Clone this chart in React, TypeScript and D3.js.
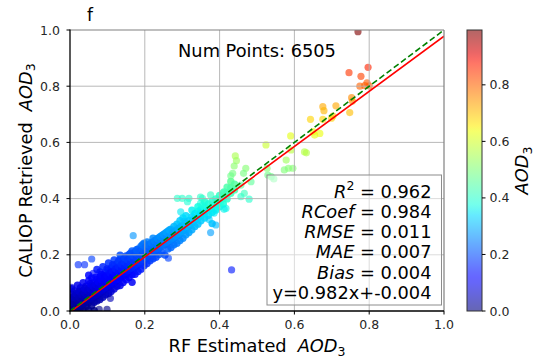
import React from "react";
import * as d3 from "d3";

// band of the dense low-AOD cloud: [estimated, retrieved values]
const bandRows: [number, number[]][] = [
  [0.004, [0.004, 0.022, 0.041, 0.06, 0.079]],
  [0.012, [0.0, 0.016, 0.031, 0.052, 0.071]],
  [0.02, [0.006, 0.021, 0.036, 0.057, 0.092]],
  [0.028, [0.011, 0.029, 0.046, 0.066, 0.083]],
  [0.035, [0.002, 0.021, 0.04, 0.056, 0.074, 0.101]],
  [0.043, [0.016, 0.034, 0.051, 0.069, 0.088]],
  [0.05, [0.004, 0.029, 0.046, 0.062, 0.081, 0.108, 0.127]],
  [0.058, [0.019, 0.041, 0.056, 0.071, 0.092, 0.118]],
  [0.065, [0.001, 0.031, 0.049, 0.066, 0.082, 0.102]],
  [0.072, [0.036, 0.054, 0.074, 0.091, 0.112, 0.148]],
  [0.08, [0.041, 0.061, 0.079, 0.096, 0.121, 0.139]],
  [0.088, [0.049, 0.071, 0.089, 0.106, 0.126, 0.158]],
  [0.095, [0.058, 0.079, 0.099, 0.116, 0.136]],
  [0.103, [0.062, 0.084, 0.101, 0.121, 0.146, 0.171]],
  [0.11, [0.069, 0.091, 0.111, 0.131, 0.152]],
  [0.118, [0.078, 0.099, 0.119, 0.139, 0.161, 0.182]],
  [0.126, [0.088, 0.109, 0.126, 0.146, 0.169]],
  [0.134, [0.091, 0.116, 0.134, 0.156, 0.184, 0.199]],
  [0.142, [0.101, 0.124, 0.144, 0.164, 0.181]],
  [0.15, [0.111, 0.131, 0.151, 0.171, 0.196]],
  [0.158, [0.119, 0.141, 0.159, 0.179, 0.201]],
  [0.166, [0.102, 0.129, 0.151, 0.171, 0.191, 0.214]],
  [0.174, [0.131, 0.154, 0.176, 0.194, 0.211]],
  [0.182, [0.141, 0.164, 0.184, 0.201, 0.221]],
  [0.19, [0.149, 0.171, 0.191, 0.209, 0.231]],
  [0.198, [0.161, 0.181, 0.199, 0.219, 0.241]],
  [0.206, [0.169, 0.189, 0.209, 0.226, 0.246]],
  [0.214, [0.179, 0.201, 0.216, 0.236]],
  [0.222, [0.186, 0.204, 0.224, 0.244, 0.259]],
  [0.23, [0.191, 0.214, 0.236, 0.251]],
  [0.238, [0.201, 0.224, 0.241, 0.261]],
  [0.246, [0.209, 0.231, 0.249, 0.269]],
  [0.254, [0.199, 0.236, 0.256, 0.276]],
  [0.262, [0.221, 0.244, 0.266, 0.284]],
  [0.27, [0.226, 0.251, 0.271, 0.291]],
  [0.278, [0.236, 0.259, 0.281, 0.301]],
  [0.286, [0.241, 0.266, 0.286, 0.309]],
  [0.294, [0.251, 0.274, 0.296, 0.321]],
  [0.302, [0.259, 0.286, 0.304, 0.331]],
  [0.31, [0.271, 0.291, 0.314, 0.339]],
  [0.318, [0.279, 0.301, 0.321]],
  [0.326, [0.289, 0.311, 0.336, 0.359]],
  [0.334, [0.301, 0.324, 0.346]],
  [0.342, [0.309, 0.331, 0.354, 0.371]],
  [0.35, [0.321, 0.339, 0.361]],
  [0.36, [0.331, 0.351, 0.369, 0.389]],
  [0.37, [0.341, 0.359, 0.381]],
  [0.38, [0.311, 0.351, 0.371, 0.391]],
  [0.39, [0.359, 0.381, 0.399]],
  [0.4, [0.371, 0.394, 0.411]],
  [0.41, [0.381, 0.401, 0.421]],
  [0.42, [0.399, 0.421, 0.441]],
  [0.43, [0.419, 0.439, 0.461]],
  [0.44, [0.431, 0.451]],
];

// the crowded core close to the 1:1 line
const coreRows: [number, number[]][] = [
  [0.008, [0.01, 0.03, 0.05]],
  [0.016, [0.008, 0.026, 0.045, 0.062]],
  [0.024, [0.015, 0.033, 0.05, 0.07]],
  [0.032, [0.024, 0.038, 0.058]],
  [0.039, [0.028, 0.047, 0.064, 0.081]],
  [0.047, [0.038, 0.055, 0.072]],
  [0.054, [0.045, 0.063, 0.079, 0.097]],
  [0.062, [0.052, 0.069, 0.088]],
  [0.069, [0.058, 0.076, 0.094, 0.12]],
  [0.076, [0.066, 0.085, 0.104]],
  [0.084, [0.074, 0.093, 0.112, 0.13]],
  [0.092, [0.082, 0.101, 0.12]],
  [0.099, [0.089, 0.108, 0.127, 0.15]],
  [0.107, [0.097, 0.116, 0.135]],
  [0.114, [0.104, 0.123, 0.142, 0.165]],
  [0.122, [0.112, 0.131, 0.15]],
  [0.13, [0.12, 0.139, 0.158, 0.178]],
  [0.138, [0.128, 0.147, 0.166]],
  [0.146, [0.136, 0.155, 0.174, 0.19]],
  [0.154, [0.144, 0.163, 0.182]],
  [0.162, [0.152, 0.17, 0.19, 0.206]],
  [0.17, [0.16, 0.178, 0.197]],
  [0.178, [0.168, 0.186, 0.205, 0.218]],
  [0.186, [0.176, 0.194, 0.212]],
  [0.194, [0.184, 0.202, 0.22, 0.236]],
  [0.202, [0.192, 0.21, 0.228]],
  [0.21, [0.2, 0.218, 0.236]],
  [0.218, [0.208, 0.226, 0.243]],
  [0.226, [0.216, 0.234, 0.25]],
  [0.234, [0.222, 0.241, 0.258]],
  [0.242, [0.23, 0.249, 0.265]],
  [0.25, [0.238, 0.256, 0.272]],
  [0.258, [0.245, 0.263, 0.28]],
  [0.266, [0.252, 0.27, 0.288]],
  [0.274, [0.26, 0.278]],
  [0.282, [0.268, 0.286]],
  [0.29, [0.276, 0.294]],
  [0.298, [0.283, 0.302]],
];

const midAodPoints: [number, number][] = [
  [0.442, 0.552], [0.445, 0.535], [0.439, 0.516], [0.47, 0.508], [0.435, 0.49],
  [0.43, 0.481], [0.464, 0.49], [0.484, 0.46], [0.529, 0.484], [0.527, 0.508],
  [0.457, 0.448], [0.412, 0.425], [0.466, 0.419], [0.457, 0.407], [0.479, 0.398],
  [0.287, 0.401], [0.3, 0.401], [0.318, 0.401], [0.349, 0.405], [0.376, 0.413],
  [0.354, 0.401], [0.314, 0.389], [0.394, 0.389], [0.349, 0.383], [0.403, 0.383],
  [0.354, 0.377], [0.417, 0.365], [0.39, 0.365], [0.412, 0.362], [0.296, 0.353],
  [0.385, 0.348], [0.349, 0.348], [0.358, 0.342], [0.372, 0.326], [0.327, 0.324],
  [0.305, 0.318], [0.39, 0.306], [0.376, 0.279], [0.538, 0.478], [0.545, 0.47],
];

const highAodPoints: [number, number][] = [
  [0.77, 0.994], [0.746, 0.848], [0.797, 0.867], [0.778, 0.835], [0.775, 0.8],
  [0.788, 0.802], [0.8, 0.801], [0.794, 0.812], [0.753, 0.759], [0.755, 0.747],
  [0.676, 0.727], [0.679, 0.713], [0.711, 0.73], [0.748, 0.706], [0.703, 0.694],
  [0.699, 0.686], [0.643, 0.682], [0.676, 0.682], [0.654, 0.626], [0.668, 0.632],
  [0.65, 0.638], [0.59, 0.623], [0.524, 0.591], [0.591, 0.573], [0.632, 0.563],
  [0.627, 0.566], [0.578, 0.537], [0.584, 0.508], [0.596, 0.508], [0.573, 0.502],
];

const outlierPoints: [number, number][] = [
  [0.432, 0.146], [0.169, 0.268], [0.263, 0.188], [0.058, 0.185], [0.022, 0.165],
  [0.039, 0.165], [0.004, 0.084], [0.062, 0.134], [0.078, 0.006], [0.099, 0.006],
  [0.108, 0.045],
];

const axisTicks = [0, 0.2, 0.4, 0.6, 0.8, 1.0];
const colorbarTicks = [0, 0.2, 0.4, 0.6, 0.8];
const fitSlope = 0.982;
const fitIntercept = -0.004;
const numPoints = 6505;
const statNames = ["RCoef", "RMSE", "MAE", "Bias"];
const statValues = ["0.962", "0.984", "0.011", "0.007", "0.004"];
const fitLabel = "y=0.982x+-0.004";

const FONT = "DejaVu Sans";
const left = 70, right = 444, top = 30, bottom = 311;
const BIG = 17.8;
const SMALL = 12.5;

// matplotlib jet
const jetR = d3.scaleLinear([0, 0.35, 0.66, 0.89, 1], [0, 0, 1, 1, 0.5]).clamp(true);
const jetG = d3.scaleLinear([0, 0.125, 0.375, 0.64, 0.91, 1], [0, 0, 1, 1, 0, 0]).clamp(true);
const jetB = d3.scaleLinear([0, 0.11, 0.34, 0.65, 1], [0.5, 1, 1, 0, 0]).clamp(true);
const jet = (t: number) => d3.rgb(jetR(t) * 255, jetG(t) * 255, jetB(t) * 255).formatHex();

const expand = (rows: [number, number[]][]) =>
  rows.flatMap(([x, ys]) => ys.map((y) => [x, y] as [number, number]));

export default function App() {
  // crowded cloud (thousands of overlapping points) gets a denser alpha
  const crowded = [...expand(bandRows), ...expand(coreRows)];
  const sparse = [...outlierPoints, ...midAodPoints, ...highAodPoints];
  const vmax = d3.max([...crowded, ...sparse], (d) => d[1]) as number;

  const x = d3.scaleLinear().domain([0, 1]).range([left, right]);
  const y = d3.scaleLinear().domain([0, 1]).range([bottom, top]);
  const cbX0 = 467, cbX1 = 482;
  const cbY = d3.scaleLinear().domain([0, vmax]).range([bottom, top]);
  const color = (v: number) => jet(v / vmax);

  const fitLine = d3.line<number>().x((d) => x(d)).y((d) => y(fitSlope * d + fitIntercept));
  const oneToOne = d3.line<number>().x((d) => x(d)).y((d) => y(d));

  const stops = d3.range(0, 1.0001, 0.02);
  const statX = 431.5;
  const lineGap = 20.3;
  const firstBase = 197.5;

  return (
    <svg width={538} height={361} style={{ position: "absolute", left: 0, top: 0, background: "#fff" }} fontFamily={FONT}>
      <defs>
        <linearGradient id="cb" x1="0" y1="1" x2="0" y2="0">
          {stops.map((s) => (
            <stop key={s} offset={s} stopColor={jet(s)} stopOpacity={0.6} />
          ))}
        </linearGradient>
        <clipPath id="plotClip">
          <rect x={left} y={top} width={right - left} height={bottom - top} />
        </clipPath>
      </defs>

      <g clipPath="url(#plotClip)">
        {crowded.map((d, i) => (
          <circle key={"c" + i} cx={x(d[0])} cy={y(d[1])} r={3.7} fill={color(d[1])} fillOpacity={0.85} />
        ))}
        {sparse.map((d, i) => (
          <circle key={"s" + i} cx={x(d[0])} cy={y(d[1])} r={3.6} fill={color(d[1])} fillOpacity={0.62} />
        ))}
      </g>

      {/* grid */}
      <g stroke="#b0b0b0" strokeWidth={0.9}>
        {axisTicks.slice(1, -1).map((t) => (
          <line key={"gx" + t} x1={x(t)} x2={x(t)} y1={top} y2={bottom} />
        ))}
        {axisTicks.slice(1, -1).map((t) => (
          <line key={"gy" + t} x1={left} x2={right} y1={y(t)} y2={y(t)} />
        ))}
      </g>

      <g clipPath="url(#plotClip)" fill="none">
        <path d={fitLine([0, 1]) as string} stroke="red" strokeWidth={1.6} />
        <path d={oneToOne([0, 1]) as string} stroke="green" strokeWidth={1.6} strokeDasharray="6,3" />
      </g>

      {/* stats box */}
      <rect x={267} y={175} width={174.5} height={130} fill="#fff" fillOpacity={0.5} stroke="#8c8c8c" strokeWidth={1} />
      <g fontSize={BIG} textAnchor="end" fill="#000">
        <text x={statX} y={firstBase}>
          <tspan fontStyle="italic">R</tspan>
          <tspan fontSize={SMALL} dy={-7.5}>2</tspan>
          <tspan dy={7.5}> = {statValues[0]}</tspan>
        </text>
        {statNames.map((n, i) => (
          <text key={n} x={statX} y={firstBase + lineGap * (i + 1)}>
            <tspan fontStyle="italic">{n}</tspan>
            <tspan> = {statValues[i + 1]}</tspan>
          </text>
        ))}
        <text x={statX} y={firstBase + lineGap * 5}>{fitLabel}</text>
      </g>

      <text x={(left + right) / 2} y={57} fontSize={BIG} textAnchor="middle">
        Num Points: {numPoints}
      </text>

      {/* spines */}
      <line x1={left} x2={right} y1={top} y2={top} stroke="#808080" strokeWidth={1.2} />
      <line x1={right} x2={right} y1={top} y2={bottom} stroke="#808080" strokeWidth={1.2} />
      <line x1={left} x2={left} y1={top - 0.6} y2={bottom + 0.6} stroke="#000" strokeWidth={1.3} />
      <line x1={left - 0.6} x2={right} y1={bottom} y2={bottom} stroke="#000" strokeWidth={1.3} />

      {/* ticks */}
      <g fontSize={SMALL} fill="#262626">
        {axisTicks.map((t) => (
          <g key={"xt" + t}>
            <line x1={x(t)} x2={x(t)} y1={bottom} y2={bottom + 3.5} stroke="#000" />
            <text x={x(t)} y={328.5} textAnchor="middle">{t.toFixed(1)}</text>
          </g>
        ))}
        {axisTicks.map((t) => (
          <g key={"yt" + t}>
            <line x1={left - 3.5} x2={left} y1={y(t)} y2={y(t)} stroke="#000" />
            <text x={60} y={y(t)} dy="0.36em" textAnchor="end">{t.toFixed(1)}</text>
          </g>
        ))}
      </g>

      <text x={87} y={21} fontSize={17}>f</text>

      <text x={(left + right) / 2} y={352} fontSize={BIG} textAnchor="middle">
        RF Estimated<tspan dx={11} fontStyle="italic">AOD</tspan>
        <tspan fontSize={SMALL} dy={3.5}>3</tspan>
      </text>
      <text transform={`translate(31.5,${(top + bottom) / 2}) rotate(-90)`} fontSize={BIG} textAnchor="middle">
        CALIOP Retrieved<tspan dx={11} fontStyle="italic">AOD</tspan>
        <tspan fontSize={SMALL} dy={3.5}>3</tspan>
      </text>

      {/* colorbar */}
      <rect x={cbX0} y={top} width={cbX1 - cbX0} height={bottom - top} fill="url(#cb)" stroke="#333" strokeWidth={1} />
      <g fontSize={SMALL} fill="#262626">
        {colorbarTicks.map((t) => (
          <g key={"cb" + t}>
            <line x1={cbX1} x2={cbX1 + 3.5} y1={cbY(t)} y2={cbY(t)} stroke="#000" />
            <text x={489.5} y={cbY(t)} dy="0.36em">{t.toFixed(1)}</text>
          </g>
        ))}
      </g>
      <text transform={`translate(528,${(top + bottom) / 2}) rotate(-90)`} fontSize={BIG} textAnchor="middle">
        <tspan fontStyle="italic">AOD</tspan>
        <tspan fontSize={SMALL} dy={3.5}>3</tspan>
      </text>
    </svg>
  );
}
